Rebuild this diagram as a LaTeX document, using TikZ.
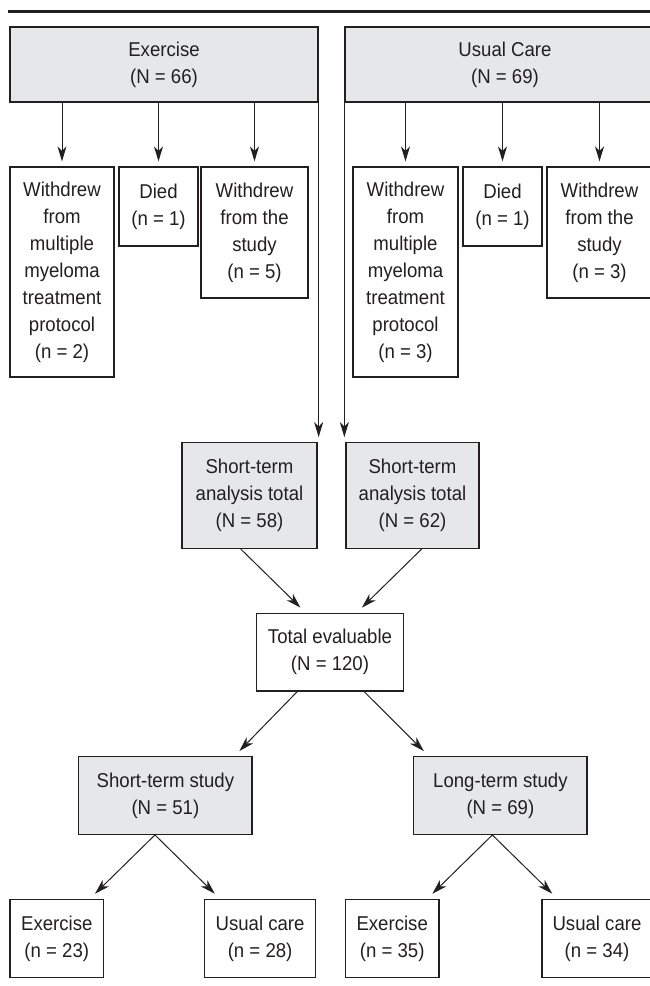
\documentclass[tikz,border=0pt]{standalone}
\usepackage{fontspec}
\setmainfont{Liberation Sans}[FakeStretch=0.93]
\usetikzlibrary{arrows.meta}
\usetikzlibrary{calc}
\usepackage{xcolor}
\definecolor{boxgrey}{HTML}{E6E7E8}
\definecolor{ink}{HTML}{231F20}

\tikzset{
  wbox/.style={draw=ink, line width=1.3pt, fill=white, inner sep=0pt, align=center, text=ink},
  gbox/.style={wbox, fill=boxgrey},
  arr/.style={draw=ink, line width=1pt, -{Stealth[length=15pt,width=9pt,inset=4.5pt]}, shorten >=7pt}
}

\begin{document}
\begin{tikzpicture}[x=1pt,y=-1pt]
\useasboundingbox (0,0) rectangle (650,986);
\fontsize{20}{27}\selectfont
\draw [ink, line width=3pt] (8,11) -- (655,11);

% arms
\node [gbox, minimum width=308, minimum height=75] (ex) at (164,64.5) {Exercise\\(N = 66)};
\node [gbox, minimum width=320, minimum height=75] (uc) at (505,64.5) {Usual Care\\(N = 69)};

% drop-outs
\node [wbox, minimum width=104, minimum height=210] (wmL) at (62,272) {Withdrew\\from\\multiple\\myeloma\\treatment\\protocol\\(n = 2)};
\node [wbox, minimum width=79, minimum height=79] (diedL) at (158.5,206.5) {Died\\(n = 1)};
\node [wbox, minimum width=107, minimum height=131] (wsL) at (254.5,232.5) {Withdrew\\from the\\study\\(n = 5)};
\node [wbox, minimum width=105, minimum height=210] (wmR) at (405.5,272) {Withdrew\\from\\multiple\\myeloma\\treatment\\protocol\\(n = 3)};
\node [wbox, minimum width=79, minimum height=79] (diedR) at (502.5,206.5) {Died\\(n = 1)};
\node [wbox, minimum width=105, minimum height=131] (wsR) at (599.5,232.5) {Withdrew\\from the\\study\\(n = 3)};

% analysis
\node [gbox, minimum width=135, minimum height=105.5] (saL) at (249.5,495.5) {Short-term\\analysis total\\(N = 58)};
\node [gbox, minimum width=133, minimum height=105.5] (saR) at (412.5,495.5) {Short-term\\analysis total\\(N = 62)};
\node [wbox, minimum width=146.6, minimum height=77.7] (tot) at (330,652) {Total evaluable\\(N = 120)};
\node [gbox, minimum width=173.2, minimum height=77.6] (sts) at (165.4,795.5) {Short-term study\\(N = 51)};
\node [gbox, minimum width=173.3, minimum height=77.6] (lts) at (500.4,795.5) {Long-term study\\(N = 69)};
\node [wbox, minimum width=93.6, minimum height=78.4] (exL) at (56.8,938.5) {Exercise\\(n = 23)};
\node [wbox, minimum width=110.6, minimum height=78.4] (ucL) at (260.1,938.5) {Usual care\\(n = 28)};
\node [wbox, minimum width=93.7, minimum height=78.4] (exR) at (392.2,938.5) {Exercise\\(n = 35)};
\node [wbox, minimum width=110, minimum height=78.4] (ucR) at (597,938.5) {Usual care\\(n = 34)};

\draw [arr, shorten >=5pt] (ex.south -| wmL) -- (wmL);
\draw [arr, shorten >=5pt] (ex.south -| diedL) -- (diedL);
\draw [arr, shorten >=5pt] (ex.south -| wsL) -- (wsL);
\draw [arr, shorten >=5pt] (uc.south -| wmR) -- (wmR);
\draw [arr, shorten >=5pt] (uc.south -| diedR) -- (diedR);
\draw [arr, shorten >=5pt] (uc.south -| wsR) -- (wsR);
\draw [arr, shorten >=5pt] (ex.south east) -- (ex.south east |- saL.north);
\draw [arr, shorten >=5pt] (uc.south west) -- (uc.south west |- saR.north);

\draw [arr] ($(saL.south west)!.435!(saL.south east)$) -- ($(tot.north west)!.334!(tot.north east)$);
\draw [arr] ($(saR.south west)!.569!(saR.south east)$) -- ($(tot.north west)!.682!(tot.north east)$);
\draw [arr] ($(tot.south west)!.279!(tot.south east)$) -- ($(sts.north west)!.896!(sts.north east)$);
\draw [arr] ($(tot.south west)!.73!(tot.south east)$) -- ($(lts.north west)!.09!(lts.north east)$);
\draw [arr] ($(sts.south west)!.44!(sts.south east)$) -- ($(exL.north west)!.85!(exL.north east)$);
\draw [arr] ($(sts.south west)!.44!(sts.south east)$) -- ($(ucL.north west)!.14!(ucL.north east)$);
\draw [arr] ($(lts.south west)!.454!(lts.south east)$) -- ($(exR.north west)!.87!(exR.north east)$);
\draw [arr] ($(lts.south west)!.454!(lts.south east)$) -- ($(ucR.north west)!.143!(ucR.north east)$);

\end{tikzpicture}
\end{document}
